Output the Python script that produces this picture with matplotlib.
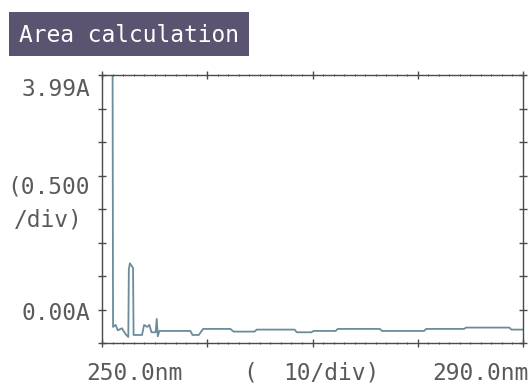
import matplotlib
matplotlib.use("Agg")
import matplotlib.pyplot as plt
from matplotlib.ticker import MultipleLocator
from matplotlib.patches import Rectangle

# ---- data ----
wavelength = [250.0, 251.0, 251.05, 251.3, 251.5, 251.9, 252.0, 252.3, 252.5,
              252.55, 252.65, 252.95, 253.0, 253.8, 254.0, 254.3, 254.5, 254.7,
              255.1, 255.2, 255.3, 255.45, 258.4, 258.6, 259.2, 259.6, 262.2,
              262.5, 264.5, 264.7, 268.3, 268.5, 269.9, 270.1, 272.2, 272.4,
              276.4, 276.6, 280.6, 280.8, 284.4, 284.6, 288.7, 288.9, 290.0]
absorbance = [4.5, 4.5, 0.24, 0.27, 0.19, 0.22, 0.19, 0.12, 0.09,
              1.10, 1.19, 1.12, 0.12, 0.12, 0.27, 0.24, 0.27, 0.16,
              0.16, 0.36, 0.10, 0.18, 0.18, 0.12, 0.12, 0.21, 0.21,
              0.17, 0.17, 0.20, 0.20, 0.16, 0.16, 0.18, 0.18, 0.21,
              0.21, 0.18, 0.18, 0.21, 0.21, 0.23, 0.23, 0.20, 0.20]

x_range = (250.0, 290.0)
y_range = (0.0, 4.0)
title_text = "Area calculation"
y_top_label = "3.99A"
y_div_label = ["(0.500", "/div)"]
y_bot_label = "0.00A"
x_labels = ["250.0nm", "(", "10/div)", "290.0nm"]

FONT = ["DejaVu Sans Mono"]
FS = 16.5
TXT = "#5a5a5a"
AX = "#4a4a4a"

fig = plt.figure(figsize=(5.28, 3.90), dpi=100)
ax = fig.add_axes([102 / 528, 47 / 390, 421 / 528, 268 / 390])
ax.plot(wavelength, absorbance, color="#6a8c9c", lw=1.3, clip_on=True)
ax.set_xlim(*x_range)
ax.set_ylim(*y_range)

for s in ax.spines.values():
    s.set_color(AX)
    s.set_linewidth(1.0)

ax.xaxis.set_major_locator(MultipleLocator(10))
ax.xaxis.set_minor_locator(MultipleLocator(1))
ax.yaxis.set_major_locator(MultipleLocator(0.5))
ax.tick_params(axis="both", which="major", direction="inout", length=6,
               width=1.0, color=AX, top=True, right=True,
               labelbottom=False, labelleft=False)
ax.tick_params(axis="x", which="minor", direction="inout", length=2.0,
               width=0.7, color=AX, top=True)

# title box
fig.patches.append(Rectangle((9 / 528, 1 - 56 / 390), 240 / 528, 44 / 390,
                             transform=fig.transFigure, facecolor="#5b5470",
                             edgecolor="none"))
fig.text(129 / 528, 1 - 35 / 390, title_text, family=FONT, fontsize=FS,
         color="white", ha="center", va="center")

fig.text(90 / 528, 1 - 90 / 390, y_top_label, family=FONT, fontsize=FS,
         color=TXT, ha="right", va="center")
fig.text(90 / 528, 1 - 187 / 390, y_div_label[0], family=FONT, fontsize=FS,
         color=TXT, ha="right", va="center")
fig.text(83 / 528, 1 - 220 / 390, y_div_label[1], family=FONT, fontsize=FS,
         color=TXT, ha="right", va="center")
fig.text(90 / 528, 1 - 314 / 390, y_bot_label, family=FONT, fontsize=FS,
         color=TXT, ha="right", va="center")

fig.text(134 / 528, 1 - 373 / 390, x_labels[0], family=FONT, fontsize=FS,
         color=TXT, ha="center", va="center")
fig.text(250 / 528, 1 - 373 / 390, x_labels[1], family=FONT, fontsize=FS,
         color=TXT, ha="center", va="center")
fig.text(331 / 528, 1 - 373 / 390, x_labels[2], family=FONT, fontsize=FS,
         color=TXT, ha="center", va="center")
fig.text(480 / 528, 1 - 373 / 390, x_labels[3], family=FONT, fontsize=FS,
         color=TXT, ha="center", va="center")

fig.savefig("out.png", dpi=100)
